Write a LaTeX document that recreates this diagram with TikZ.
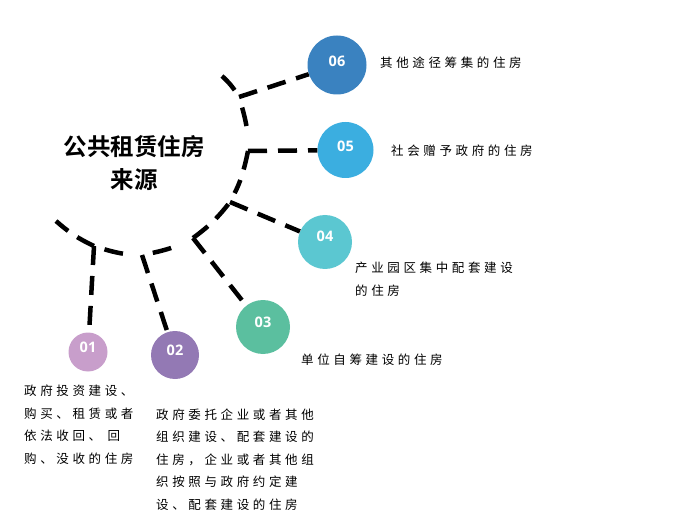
\documentclass[tikz,border=0pt]{standalone}
\usepackage{fontspec}
\setmainfont{Noto Sans CJK SC}
\newfontfamily\cjk[LetterSpace=29]{Noto Sans CJK SC}
\newfontfamily\titlefont{Noto Sans CJK SC Bold}
\newfontfamily\numfont{Open Sans}

\definecolor{ball1}{HTML}{C89ECB}
\definecolor{ball2}{HTML}{9379B4}
\definecolor{ball3}{HTML}{5BBF9F}
\definecolor{ball4}{HTML}{5BC7D1}
\definecolor{ball5}{HTML}{3BAEE0}
\definecolor{ball6}{HTML}{3A82C0}

\begin{document}
\begin{tikzpicture}[x=1pt, y=-1pt,
  ball/.style={circle, inner sep=0pt},
  ballnum/.style={font=\numfont\bfseries\fontsize{14.5}{14.5}\selectfont, text=white, inner sep=0pt},
  desc/.style={font=\cjk\fontsize{12.5}{22.5}\selectfont, align=left, inner sep=0pt, anchor=west},
  arcline/.style={line width=4.5pt, dash pattern=on 19pt off 11pt}]
\useasboundingbox (0,0) rectangle (695,526);

% Title
\node[font=\titlefont\fontsize{23.5}{33}\selectfont, align=center] (title) at (134,163.5) {公共租赁住房\\来源};

% Circles
\node[ball, minimum size=39pt, fill=ball1] (c01) at (88,352) {};
\node[ball, minimum size=48pt, fill=ball2] (c02) at (175,355) {};
\node[ball, minimum size=54pt, fill=ball3] (c03) at (263,327) {};
\node[ball, minimum size=54pt, fill=ball4] (c04) at (325,242) {};
\node[ball, minimum size=56pt, fill=ball5] (c05) at (345.5,150) {};
\node[ball, minimum size=59pt, fill=ball6] (c06) at (337,65) {};

% Numbers
\node[ballnum] (n01) at ([yshift=5pt]c01.center) {01};
\node[ballnum] (n02) at ([yshift=5pt]c02.center) {02};
\node[ballnum] (n03) at ([yshift=5pt]c03.center) {03};
\node[ballnum] (n04) at ([yshift=6pt]c04.center) {04};
\node[ballnum] (n05) at ([yshift=4pt]c05.center) {05};
\node[ballnum] (n06) at ([yshift=4pt]c06.center) {06};

% Points on the arc
\coordinate (a0) at (56,221);
\coordinate (j1) at (94,246);
\coordinate (j2) at (142,255);
\coordinate (j3) at (193,238);
\coordinate (j4) at (230,202);
\coordinate (j5) at (248,151);
\coordinate (j6) at (239,97);
\coordinate (a7) at (222,76);

% Arc pieces
\draw[arcline] (j1) to[bend left=8] (a0);
\draw[arcline, dash phase=19pt, shorten >=11pt] (j1) to[bend right=8] (j2);
\draw[arcline, dash phase=19pt, shorten >=14pt] (j2) to[bend right=8] (j3);
\draw[arcline] (j3) to[bend right=8] (j4);
\draw[arcline, shorten >=10pt] (j5) to[bend left=8] (j4);
\draw[arcline, dash phase=19pt, shorten >=15pt] (j6) to[bend left=8] (j5);
\draw[arcline] (a7) to[bend left=8] (j6);

% Branches
\draw[arcline] (j1) -- (c01);
\draw[arcline] (j2) -- (c02);
\draw[arcline] (j3) -- (c03);
\draw[arcline] (j4) -- (c04);
\draw[arcline] (j5) -- (c05);
\draw[arcline] (j6) -- (c06);

% Descriptions
\node[desc] (t06) at (380,63) {其他途径筹集的住房};
\node[desc] (t05) at (391,151) {社会赠予政府的住房};
\node[desc] (t04) at (355,279) {产业园区集中配套建设\\的住房};
\node[desc] (t03) at (301,360) {单位自筹建设的住房};
\node[desc] (t01) at (24,424.5) {政府投资建设、\\购买、租赁或者\\依法收回、 回\\购、没收的住房};
\node[desc] (t02) at (156,459.5) {政府委托企业或者其他\\组织建设、配套建设的\\住房，企业或者其他组\\织按照与政府约定建\\设、配套建设的住房};
\end{tikzpicture}
\end{document}
